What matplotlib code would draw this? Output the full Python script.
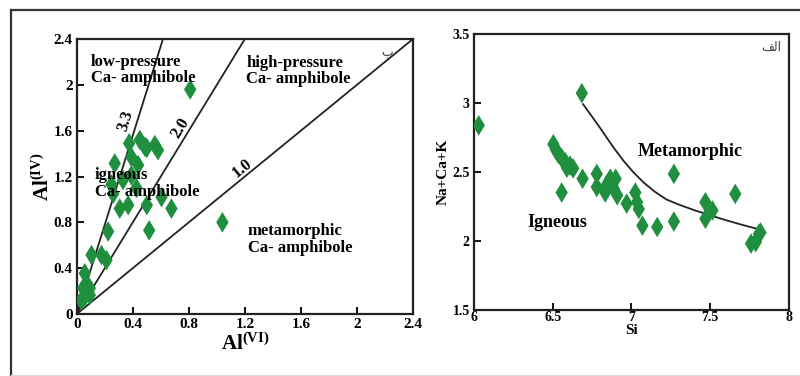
import numpy as np
import matplotlib
matplotlib.use('Agg')
import matplotlib.pyplot as plt
from matplotlib.lines import Line2D

plt.rcParams['font.family'] = ['Liberation Serif', 'DejaVu Sans']
plt.rcParams['font.weight'] = 'bold'
plt.rcParams['axes.labelweight'] = 'bold'
plt.rcParams['mathtext.fontset'] = 'custom'
plt.rcParams['mathtext.rm'] = 'Liberation Serif:bold'
plt.rcParams['mathtext.bf'] = 'Liberation Serif:bold'
plt.rcParams['mathtext.it'] = 'Liberation Serif:bold:italic'

GREEN = '#1f8f3f'

# left panel: Al(VI) vs Al(IV)
al_vi = [0.81, 1.04, 0.374, 0.45, 0.486, 0.557, 0.58, 0.50, 0.271, 0.39, 0.438,
         0.39, 0.33, 0.248, 0.426, 0.26, 0.605, 0.307, 0.367, 0.50, 0.676,
         0.517, 0.224, 0.105, 0.176, 0.212, 0.057, 0.069, 0.045, 0.093,
         0.057, 0.093, 0.033, 0.075]
al_iv = [1.96, 0.80, 1.49, 1.52, 1.46, 1.475, 1.43, 1.45, 1.315, 1.37, 1.30,
         1.21, 1.17, 1.13, 1.10, 1.05, 1.02, 0.92, 0.95, 0.95, 0.92,
         0.73, 0.72, 0.515, 0.515, 0.47, 0.355, 0.25, 0.225, 0.225,
         0.15, 0.165, 0.12, 0.19]
line_slopes = [3.9, 2.0, 1.0]
line_labels = ['3.3', '2.0', '1.0']
label_pos = [(0.35, 1.69), (0.74, 1.62), (1.18, 1.27)]

# right panel: Si vs Na+Ca+K
si = [6.03, 6.685, 6.504, 6.52, 6.536, 6.557, 6.58, 6.61, 6.59, 6.63, 6.557,
      6.69, 6.78, 6.78, 6.834, 6.845, 6.866, 6.90, 6.887, 6.91, 6.97, 7.025,
      7.036, 7.047, 7.07, 7.164, 7.27, 7.27, 7.47, 7.47, 7.515, 7.66, 7.76,
      7.79, 7.81, 7.82]
nacak = [2.837, 3.07, 2.70, 2.66, 2.63, 2.60, 2.57, 2.545, 2.53, 2.525, 2.35,
         2.45, 2.485, 2.39, 2.35, 2.41, 2.45, 2.45, 2.38, 2.33, 2.27, 2.35,
         2.28, 2.23, 2.11, 2.10, 2.485, 2.14, 2.28, 2.16, 2.22, 2.34, 1.98,
         1.99, 2.05, 2.06]
curve_si = [6.693, 6.75, 6.80, 6.884, 6.95, 7.01, 7.08, 7.15, 7.222, 7.30,
            7.40, 7.497, 7.60, 7.70, 7.79]
curve_y = [2.99, 2.90, 2.82, 2.68, 2.58, 2.50, 2.42, 2.355, 2.30, 2.263,
           2.222, 2.186, 2.15, 2.117, 2.09]

fig = plt.figure(figsize=(8, 3.76), dpi=100)

# outer frame
fig.add_artist(Line2D([0.014, 1.0], [0.973, 0.973], color='#333333', lw=1.6))
fig.add_artist(Line2D([0.014, 0.014], [0.0, 0.973], color='#333333', lw=1.6))
fig.add_artist(Line2D([0.014, 1.0], [0.003, 0.003], color='#dddddd', lw=1.0))

ax1 = fig.add_axes([0.096, 0.165, 0.42, 0.731])
ax1.set_xlim(0, 2.4)
ax1.set_ylim(0, 2.4)
xs = np.array([0, 2.4])
for k, lab, (lx, ly) in zip(line_slopes, line_labels, label_pos):
    ax1.plot(xs, k * xs, color='#222222', lw=1.3)
    ang = np.degrees(np.arctan(k * (0.731 * 376) / (0.42 * 800)))
    ax1.text(lx, ly, lab, rotation=ang, fontsize=12, fontweight='bold',
             ha='center', va='center', rotation_mode='anchor')
ax1.scatter(al_vi, al_iv, marker='d', s=110, color=GREEN, edgecolors='none', zorder=3)
ax1.text(0.1, 2.13, 'low-pressure\nCa- amphibole', fontsize=12, va='center', linespacing=1.05)
ax1.text(1.21, 2.12, 'high-pressure\nCa- amphibole', fontsize=12, va='center', linespacing=1.05)
ax1.text(0.13, 1.14, 'igneous\nCa- amphibole', fontsize=12, va='center', linespacing=1.05)
ax1.text(1.22, 0.65, 'metamorphic\nCa- amphibole', fontsize=12, va='center', linespacing=1.05)
ax1.text(2.26, 2.34, '\u0628', fontsize=9, fontweight='normal', family=['DejaVu Sans'],
         ha='right', va='top', color='#444444')
ticks1 = [0, 0.4, 0.8, 1.2, 1.6, 2, 2.4]
ax1.set_xticks(ticks1)
ax1.set_yticks(ticks1)
ax1.set_xticklabels(['0', '0.4', '0.8', '1.2', '1.6', '2', '2.4'])
ax1.set_yticklabels(['0', '0.4', '0.8', '1.2', '1.6', '2', '2.4'])
ax1.tick_params(direction='in', length=5, width=1.3, labelsize=11, pad=3,
                top=False, right=False)
ax1.set_xlabel(r'$\mathrm{Al}^{\mathrm{(VI)}}$', fontsize=15, labelpad=2)
ax1.set_ylabel(r'$\mathrm{Al}^{\mathrm{(IV)}}$', fontsize=15, labelpad=0)
for sp in ax1.spines.values():
    sp.set_linewidth(1.6)
    sp.set_color('#222222')

ax2 = fig.add_axes([0.5925, 0.176, 0.3935, 0.734])
ax2.set_xlim(6, 8)
ax2.set_ylim(1.5, 3.5)
ax2.plot(curve_si, curve_y, color='#222222', lw=1.3)
ax2.scatter(si, nacak, marker='d', s=110, color=GREEN, edgecolors='none', zorder=3)
ax2.text(7.04, 2.645, 'Metamorphic', fontsize=13, va='center')
ax2.text(6.34, 2.13, 'Igneous', fontsize=13, va='center')
ax2.text(7.95, 3.45, '\ufed2\ufedf\ufe8d', fontsize=9, fontweight='normal', family=['DejaVu Sans'],
         ha='right', va='top', color='#444444')
ax2.set_xticks([6, 6.5, 7, 7.5, 8])
ax2.set_xticklabels(['6', '6.5', '7', '7.5', '8'])
ax2.set_yticks([1.5, 2, 2.5, 3, 3.5])
ax2.set_yticklabels(['1.5', '2', '2.5', '3', '3.5'])
ax2.tick_params(axis='x', direction='in', length=5, width=1.3, labelsize=10, pad=1,
                top=False)
ax2.tick_params(axis='y', direction='in', length=5, width=1.3, labelsize=10, pad=3,
                right=False)
ax2.set_xlabel('Si', fontsize=11, fontweight='bold', labelpad=0)
ax2.set_ylabel('Na+Ca+K', fontsize=11, fontweight='bold', labelpad=2)
for sp in ax2.spines.values():
    sp.set_linewidth(1.6)
    sp.set_color('#222222')

fig.savefig('out.png', dpi=100)
